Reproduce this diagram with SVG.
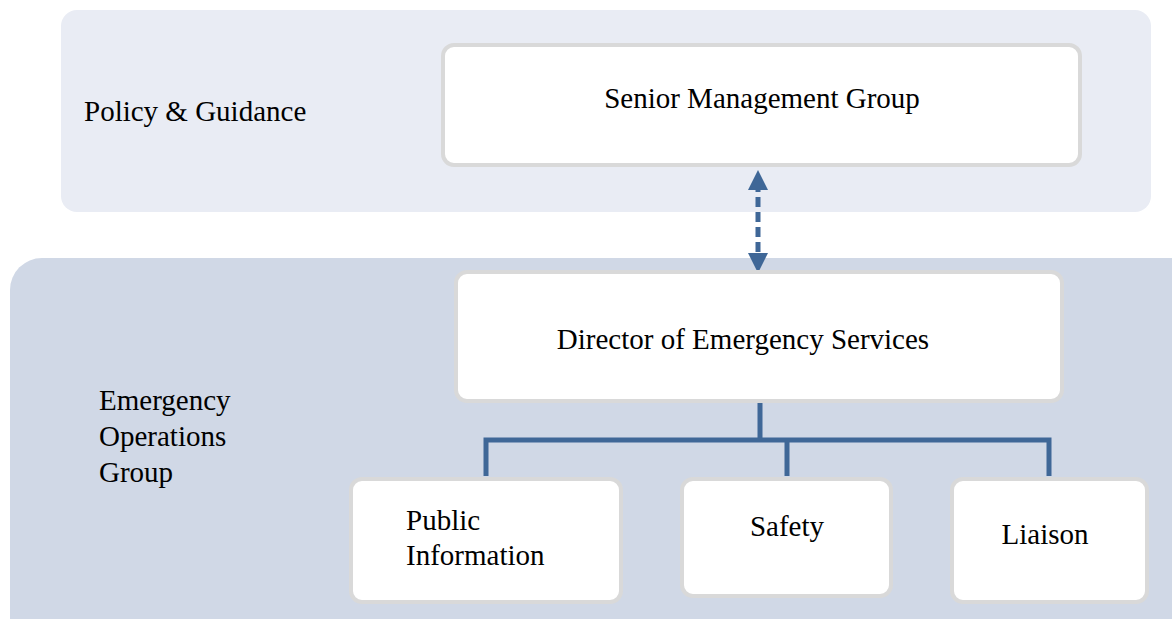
<svg xmlns="http://www.w3.org/2000/svg" width="1172" height="619" viewBox="0 0 1172 619">
<style>
.t{font-family:"Liberation Serif","Times New Roman",serif;font-size:29px;fill:#000}
.box{fill:#fff;stroke:#D9D9D9;stroke-width:4}
.ln{fill:none;stroke:#3F6797;stroke-width:5}
</style>
<defs>
<marker id="ah" viewBox="0 0 10 10" refX="4" refY="5" markerWidth="4" markerHeight="4" orient="auto-start-reverse" markerUnits="strokeWidth">
<path d="M0,0 L10,5 L0,10 Z" fill="#3F6797"/>
</marker>
</defs>
<g id="policy-panel">
<rect x="61" y="10" width="1090" height="202" rx="16" fill="#E9ECF4"/>
<text class="t" x="84" y="121">Policy &amp; Guidance</text>
</g>
<g id="eog-panel">
<rect x="10" y="258" width="1200" height="400" rx="32" fill="#D0D8E6"/>
<text class="t" x="99" y="410">Emergency</text>
<text class="t" x="99" y="446">Operations</text>
<text class="t" x="99" y="482">Group</text>
</g>
<g id="connectors">
<line class="ln" x1="758" y1="182" x2="758" y2="261" stroke-width="4" stroke-dasharray="10,5" marker-start="url(#ah)" marker-end="url(#ah)"/>
<path class="ln" d="M760,401 V440 M486,476 V440 H1049 V476 M787,440 V476"/>
</g>
<g id="senior">
<rect class="box" x="443" y="45" width="637" height="120" rx="11"/>
<text class="t" x="762" y="108" text-anchor="middle">Senior Management Group</text>
</g>
<g id="director">
<rect class="box" x="456" y="272" width="606" height="129" rx="11"/>
<text class="t" x="743" y="349" text-anchor="middle">Director of Emergency Services</text>
</g>
<g id="public">
<rect class="box" x="351" y="479" width="270" height="123" rx="11"/>
<text class="t" x="406" y="530">Public</text>
<text class="t" x="406" y="565">Information</text>
</g>
<g id="safety">
<rect class="box" x="682" y="479" width="209" height="117" rx="11"/>
<text class="t" x="787" y="536" text-anchor="middle">Safety</text>
</g>
<g id="liaison">
<rect class="box" x="952" y="479" width="195" height="123" rx="11"/>
<text class="t" x="1045" y="544" text-anchor="middle">Liaison</text>
</g>
</svg>
